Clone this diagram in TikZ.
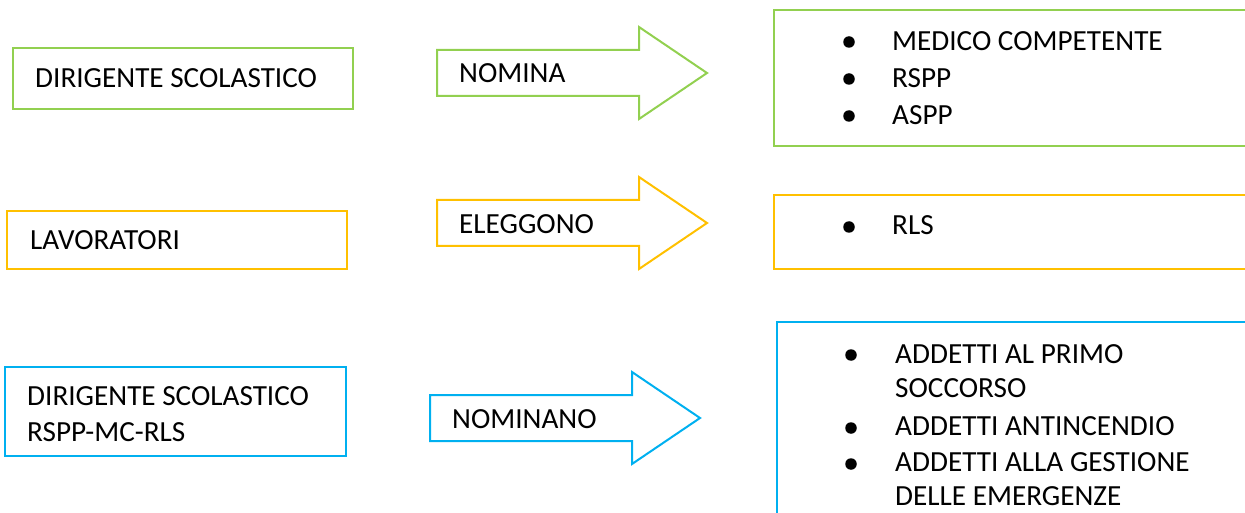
\documentclass[tikz,border=0pt]{standalone}
\usepackage{fontspec}
\setmainfont{Carlito}
\definecolor{cgreen}{HTML}{92D050}
\definecolor{cyellow}{HTML}{FFC000}
\definecolor{cblue}{HTML}{00B0F0}
\begin{document}
\begin{tikzpicture}[x=1pt,y=-1pt,
  frame/.style={line width=2pt},
  txt/.style={anchor=base west,inner sep=0pt,font=\fontsize{29.2}{35}\selectfont},
  dot/.style={circle,fill=black,inner sep=0pt,minimum size=11.5pt}]
\useasboundingbox (0,0) rectangle (1245,513);
\clip (0,0) rectangle (1245,513);
% row 1 (green)
\draw[frame,cgreen] (13,48) rectangle (353,109);
\node[txt] (t1) at (35,88) {DIRIGENTE SCOLASTICO};
\draw[frame,cgreen] (437,50) -- (639,50) -- (639,27) -- (707,73) -- (639,119) -- (639,96) -- (437,96) -- cycle;
\node[txt] (a1) at (459,83) {NOMINA};
\draw[frame,cgreen] (1260,10) -- (774,10) -- (774,146) -- (1260,146);
\node[dot] (b11) at (849,42) {};
\node[dot] (b12) at (849,79) {};
\node[dot] (b13) at (849,116) {};
\node[txt] (r11) at (892,51) {MEDICO COMPETENTE};
\node[txt] (r12) at (892,88) {RSPP};
\node[txt] (r13) at (892,125) {ASPP};
% row 2 (yellow)
\draw[frame,cyellow] (7,211) rectangle (347,269);
\node[txt] (t2) at (30,250) {LAVORATORI};
\draw[frame,cyellow] (437,200) -- (639,200) -- (639,177) -- (707,223) -- (639,269) -- (639,246) -- (437,246) -- cycle;
\node[txt] (a2) at (459,234) {ELEGGONO};
\draw[frame,cyellow] (1260,195) -- (774,195) -- (774,269) -- (1260,269);
\node[dot] (b21) at (849,227) {};
\node[txt] (r21) at (892,235) {RLS};
% row 3 (blue)
\draw[frame,cblue] (5,367) rectangle (346,456);
\node[txt] (t31) at (27,405) {DIRIGENTE SCOLASTICO};
\node[txt] (t32) at (27,441) {RSPP-MC-RLS};
\draw[frame,cblue] (430,395) -- (632,395) -- (632,372) -- (700,418) -- (632,464) -- (632,441) -- (430,441) -- cycle;
\node[txt] (a3) at (452,428) {NOMINANO};
\draw[frame,cblue] (1260,322) -- (777,322) -- (777,530);
\node[dot] (b31) at (851,355) {};
\node[dot] (b32) at (851,428) {};
\node[dot] (b33) at (851,464) {};
\node[txt] (r31) at (895,363) {ADDETTI AL PRIMO};
\node[txt] (r32) at (895,397) {SOCCORSO};
\node[txt] (r33) at (895,435) {ADDETTI ANTINCENDIO};
\node[txt] (r34) at (895,471) {ADDETTI ALLA GESTIONE};
\node[txt] (r35) at (895,505) {DELLE EMERGENZE};
\end{tikzpicture}
\end{document}
